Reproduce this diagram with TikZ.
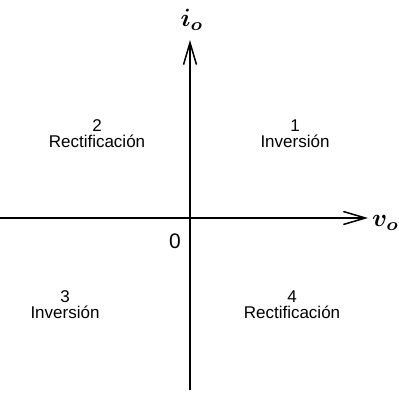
\documentclass[tikz,border=0pt]{standalone}
\usepackage{fontspec}
\setsansfont{Liberation Sans}
\usetikzlibrary{arrows.meta,positioning}
\tikzset{
  axis/.style={-{Straight Barb[length=22pt,width=13pt,line width=1.5pt]},line width=1.6pt,draw=black},
  quadnum/.style={font=\sffamily\fontsize{17}{16}\selectfont,align=center,inner sep=0pt},
  axislabel/.style={font=\boldmath,inner sep=0pt},
  origin/.style={font=\sffamily\fontsize{21}{22}\selectfont,inner sep=0pt}
}
\begin{document}
\begin{tikzpicture}[x=1pt,y=-1pt]
  \useasboundingbox (0,0) rectangle (399,393);
  \coordinate (west) at (0,218);
  \coordinate (east) at (368,218);
  \coordinate (south) at (190,390);
  \coordinate (north) at (190,40);
  \draw[axis] (west) -- (east);
  \draw[axis] (south) -- (north);
  \node[axislabel,anchor=west] (vo) at (372,223) {\scalebox{2.5}{$v_o$}};
  \node[axislabel] (io) at (192,20) {\scalebox{2.5}{$i_o$}};
  \node[origin] (zero) at (175,241) {0};
  % quadrants
  \node[quadnum] (q1) at (295,134) {1\\Inversión};
  \node[quadnum] (q2) at (97,134) {2\\Rectificación};
  \node[quadnum] (q3) at (65,305) {3\\Inversión};
  \node[quadnum] (q4) at (292,305) {4\\Rectificación};
\end{tikzpicture}
\end{document}
